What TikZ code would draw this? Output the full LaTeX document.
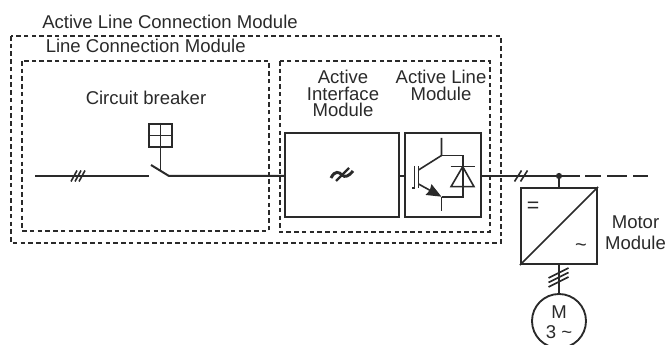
\documentclass[tikz,border=0pt]{standalone}
\usepackage{fontspec}
\setmainfont{Liberation Sans}
\usetikzlibrary{arrows.meta}
\definecolor{ink}{HTML}{2A2A2A}
\tikzset{
  frame/.style={draw=ink,line width=1.5pt,dash pattern=on 3.4pt off 2.4pt},
  wire/.style={draw=ink,line width=1.5pt},
  thin wire/.style={draw=ink,line width=1.2pt},
  block/.style={draw=ink,line width=1.6pt,fill=white,inner sep=0pt,minimum width=0pt},
  label/.style={text=ink,font=\fontsize{13.9pt}{12.3pt}\selectfont,inner sep=0pt,align=center},
  widelabel/.style={text=ink,font=\fontsize{13.9pt}{15.8pt}\selectfont,inner sep=0pt,align=center},
}
\begin{document}
\begin{tikzpicture}[x=0.75pt,y=-0.75pt]
\useasboundingbox (0,0) rectangle (666,345);
\clip (0,0) rectangle (666,345);
\node[label,anchor=west] (t1) at (42,22) {Active Line Connection Module};
\node[label,anchor=west] (t2) at (45.5,46) {Line Connection Module};
\node[label] (t3) at (146,98) {Circuit breaker};
\node[label] (t4) at (343,93.5) {Active\\Interface\\Module};
\node[label] (t5) at (441,85.5) {Active Line\\Module};
\node[widelabel] (t6) at (635.5,232.5) {Motor\\Module};
\path[frame] (11,36) rectangle (501,243);
\path[frame] (22,61) rectangle (269,231);
\path[frame] (279.5,61) rectangle (489.5,232);
% boxes
\node[block,minimum width=114*0.75pt,minimum height=84*0.75pt] (aim) at (342,175) {};
\node[block,minimum width=76*0.75pt,minimum height=84*0.75pt] (alm) at (443,175) {};
\node[block,minimum width=76*0.75pt,minimum height=76*0.75pt] (mm) at (559,226) {};
\node[block,minimum width=23*0.75pt,minimum height=23*0.75pt] (cb) at (160.5,135.5) {};
\node[draw=ink,line width=1.4pt,circle,inner sep=0pt,minimum size=54*0.75pt] (motor) at (559,321) {};
\coordinate (in) at (35,176);
\coordinate (swa) at (149,176);
\coordinate (swb) at (169,176);
\coordinate (blade) at (151,165);
\coordinate (bus) at (559,176);
\coordinate (busend) at (580,176);
% line left
\draw[wire] (in) -- (swa);
\draw[wire] (blade) -- (swb) -- (aim.west |- swb);
\draw[thin wire] (cb.south) -- (160.5,171);
\draw[line width=1.1pt,ink] (cb.north) -- (cb.south) (cb.west) -- (cb.east);
\foreach \x in {74,78,82}
  \draw[thin wire] (\x-3,181.5) -- (\x+3,170.5);
% between
\draw[wire] (aim.east |- 0,176) -- (alm.west |- 0,176);
\draw[wire] (alm.east |- 0,176) -- (busend);
\draw[wire] (585,176) -- (601,176) (607,176) -- (627,176) (633,176) -- (648,176);
\foreach \x in {518,524}
  \draw[thin wire] (\x-3.5,181.5) -- (\x+3.5,170.5);
\fill[ink] (bus) circle (3.1);
\draw[thin wire] (bus) -- (mm.north);
\draw[thin wire] (mm.south west) -- (mm.north east);
\draw[thin wire] (mm.south) -- (motor.north);
\foreach \y in {273,277.5,282}
  \draw[thin wire] (548.5,\y+5) -- (568.5,\y-5);
\node[text=ink,font=\fontsize{16pt}{16pt}\selectfont,inner sep=0pt] (eq) at (533,207.5) {=};
\node[text=ink,font=\fontsize{15pt}{15pt}\selectfont,inner sep=0pt] (tl) at (581,248) {\char"007E};
\node[text=ink,font=\fontsize{13.9pt}{15pt}\selectfont,inner sep=0pt,align=center] (m) at (559,322) {M\\3 \char"007E};
% AC symbol
\draw[ink,line width=2.2pt] (331,178) .. controls (335,170) and (339,172) .. (342,175) .. controls (345,178) and (349,176) .. (353,171);
\draw[ink,line width=1.7pt] (336,181) -- (349,168);
% IGBT
\draw[thin wire] (414.5,166) -- (414.5,188) -- (412,188);
\draw[thin wire] (418.5,166) -- (418.5,188);
\draw[thin wire] (418.5,170) -- (441.5,155.5) -- (441.5,138);
\draw[thin wire,-{Stealth[length=11pt,width=9pt,inset=1pt]}] (418.5,184) -- (441.5,196.7);
\draw[thin wire] (441.5,196.7) -- (441.5,211);
\draw[thin wire] (441.5,155.5) -- (462.7,155.5) -- (462.7,196.7) -- (441.5,196.7);
\draw[thin wire] (450.5,166.7) -- (475,166.7);
\draw[thin wire] (462.7,166.7) -- (451,186.7) -- (474,186.7) -- cycle;
\end{tikzpicture}
\end{document}
